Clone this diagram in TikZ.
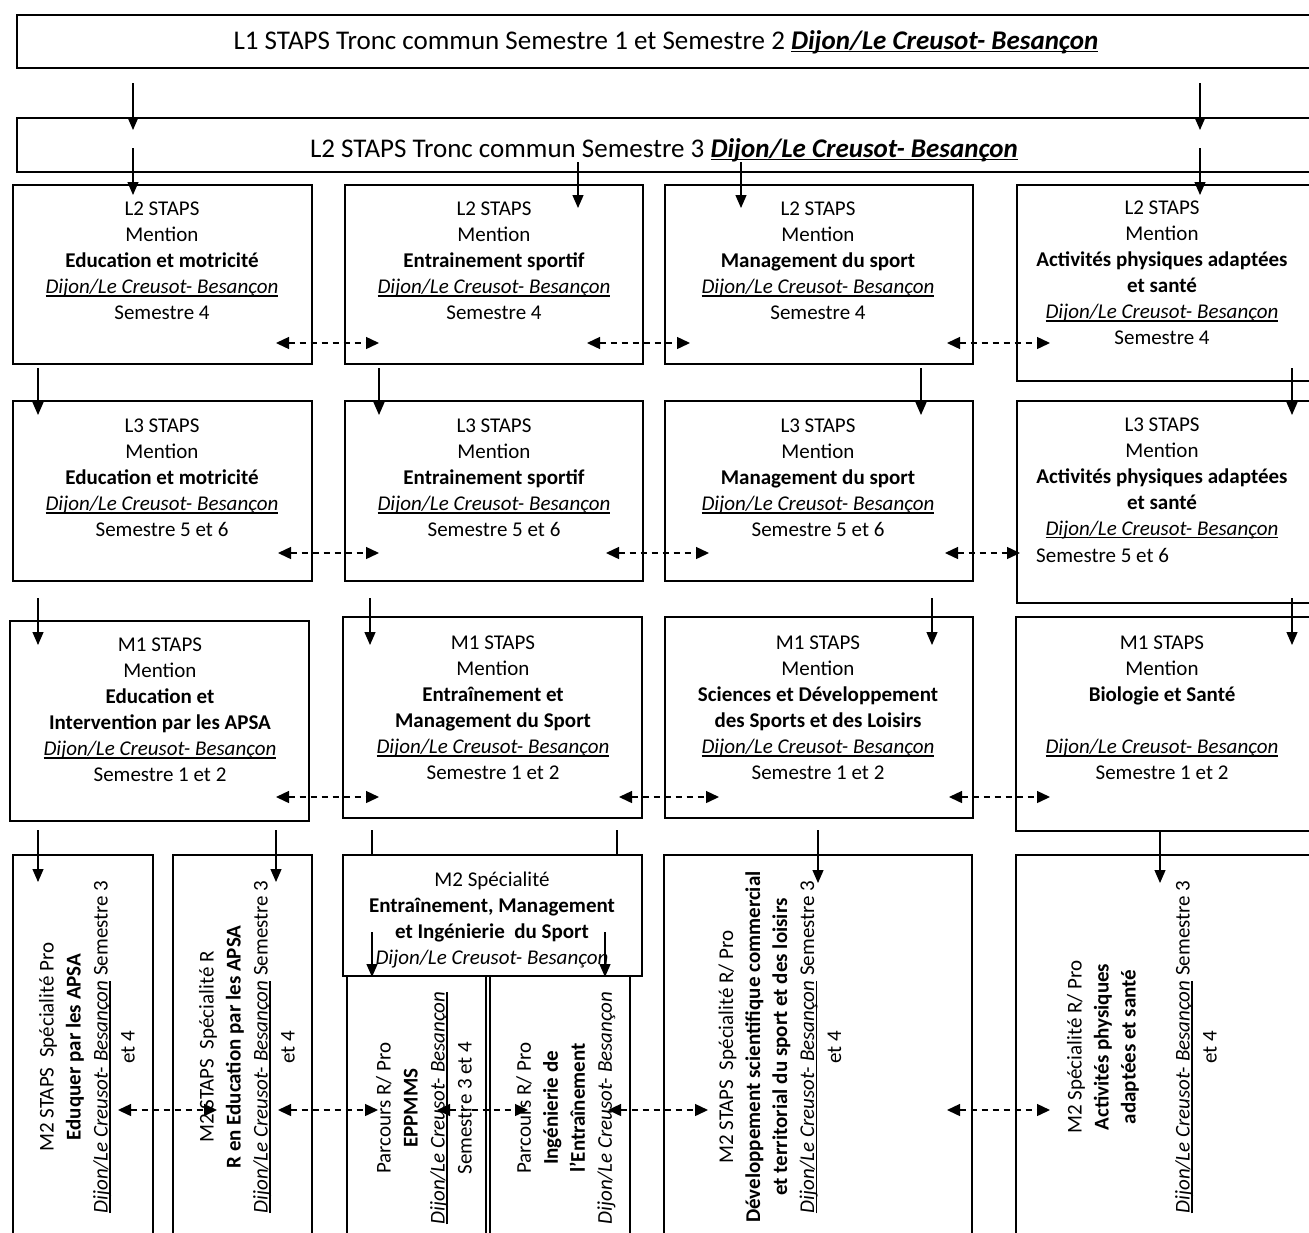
\documentclass[tikz,border=0pt]{standalone}
\usepackage{fontspec}
\setmainfont{Carlito}
\usetikzlibrary{arrows.meta}
\newsavebox\ulbox
\newcommand\myul[1]{\leavevmode\sbox\ulbox{#1}\rlap{\rule[-3.2pt]{\wd\ulbox}{1.5pt}}\usebox\ulbox}
\newcommand\loc{\myul{\textit{Dijon/Le Creusot- Besançon}}}
\newcommand\mybox[5]{\node[box,minimum width={(#4)-(#2)},minimum height={(#5)-(#3)}] (#1) at ({((#2)+(#4))/2},{((#3)+(#5))/2}) {};}
\newcommand\myvarr[4]{\coordinate (#1s) at (#2,#3); \coordinate (#1e) at (#2,#4); \draw[arr] (#1s) -- (#1e);}
\newcommand\myvline[4]{\coordinate (#1s) at (#2,#3); \coordinate (#1e) at (#2,#4); \draw[conn] (#1s) -- (#1e);}
\newcommand\myharr[4]{\coordinate (#1s) at (#3,#2); \coordinate (#1e) at (#4,#2); \draw[darr] (#1s) -- (#1e);}
\begin{document}
\begin{tikzpicture}[x=1pt,y=-1pt,
  box/.style={draw,line width=1.4pt,inner sep=0pt},
  txt/.style={align=center,inner sep=0pt,font=\fontsize{21}{26}\selectfont},
  rtxt/.style={align=center,inner sep=0pt,rotate=90,font=\fontsize{21}{27}\selectfont},
  big/.style={inner sep=0pt,font=\fontsize{27}{30}\selectfont},
  conn/.style={line width=1.2pt},
  arr/.style={line width=1.2pt,-{Triangle[length=13pt,width=11pt]}},
  darr/.style={line width=1.4pt,dash pattern=on 6pt off 5pt,{Triangle[length=13pt,width=12pt]}-{Triangle[length=13pt,width=12pt]}}]
\useasboundingbox (0,0) rectangle (1309,1232);
\fill[white] (0,0) rectangle (1309,1232);
\clip (0,0) rectangle (1309,1232);

% top boxes
\mybox{lone}{17}{15}{1315}{68}
\mybox{ltwo}{17}{118}{1315}{172}
\node[big] (tone) at (666,42) {L1 STAPS Tronc commun Semestre 1 et Semestre 2 \myul{\textbf{\textit{Dijon/Le Creusot- Besançon}}}};
\node[big] (ttwo) at (664,150) {L2 STAPS Tronc commun Semestre 3 \myul{\textbf{\textit{Dijon/Le Creusot- Besançon}}}};

% row 1
\mybox{aone}{13}{185}{312}{364}
\mybox{bone}{345}{185}{643}{364}
\mybox{cone}{665}{185}{973}{364}
\mybox{done}{1017}{185}{1315}{381}
\node[txt] (taone) at (162,261) {L2 STAPS\\Mention\\\textbf{Education et motricité}\\\loc\\Semestre 4};
\node[txt] (tbone) at (494,261) {L2 STAPS\\Mention\\\textbf{Entrainement sportif}\\\loc\\Semestre 4};
\node[txt] (tcone) at (818,261) {L2 STAPS\\Mention\\\textbf{Management du sport}\\\loc\\Semestre 4};
\node[txt] (tdone) at (1162,273) {L2 STAPS\\Mention\\\textbf{Activités physiques adaptées}\\\textbf{et santé}\\\loc\\Semestre 4};

% row 2
\mybox{atwo}{13}{401}{312}{581}
\mybox{btwo}{345}{401}{643}{581}
\mybox{ctwo}{665}{401}{973}{581}
\mybox{dtwo}{1017}{401}{1315}{603}
\node[txt] (tatwo) at (162,478) {L3 STAPS\\Mention\\\textbf{Education et motricité}\\\loc\\Semestre 5 et 6};
\node[txt] (tbtwo) at (494,478) {L3 STAPS\\Mention\\\textbf{Entrainement sportif}\\\loc\\Semestre 5 et 6};
\node[txt] (tctwo) at (818,478) {L3 STAPS\\Mention\\\textbf{Management du sport}\\\loc\\Semestre 5 et 6};
\node[txt] (tdtwo) at (1162,478) {L3 STAPS\\Mention\\\textbf{Activités physiques adaptées}\\\textbf{et santé}\\\loc};
\node[txt,anchor=west] (tdtwob) at (1036,555) {Semestre 5 et 6};

% row 3
\mybox{athree}{10}{621}{309}{821}
\mybox{bthree}{343}{617}{642}{818}
\mybox{cthree}{665}{617}{973}{818}
\mybox{dthree}{1016}{617}{1315}{831}
\node[txt] (tathree) at (160,710) {M1 STAPS\\Mention\\\textbf{Education et}\\\textbf{Intervention par les APSA}\\\loc\\Semestre 1 et 2};
\node[txt] (tbthree) at (493,708) {M1 STAPS\\Mention\\\textbf{Entraînement et}\\\textbf{Management du Sport}\\\loc\\Semestre 1 et 2};
\node[txt] (tcthree) at (818,708) {M1 STAPS\\Mention\\\textbf{Sciences et Développement}\\\textbf{des Sports et des Loisirs}\\\loc\\Semestre 1 et 2};
\node[txt] (tdthree) at (1162,708) {M1 STAPS\\Mention\\\textbf{Biologie et Santé}\\\strut\\\loc\\Semestre 1 et 2};

% row 4
\mybox{afour}{13}{855}{153}{1245}
\mybox{bfour}{173}{855}{312}{1245}
\mybox{mfour}{343}{855}{642}{976}
\mybox{pone}{347}{976}{486}{1245}
\mybox{ptwo}{490}{976}{630}{1245}
\mybox{cfour}{664}{855}{972}{1245}
\mybox{dfour}{1016}{855}{1315}{1245}
\node[txt] (tmfour) at (492,920) {M2 Spécialité\\\textbf{Entraînement, Management}\\\textbf{et Ingénierie~ du Sport}\\\textit{Dijon/Le Creusot- Besançon}};
\node[rtxt] (tafour) at (87,1047) {M2 STAPS~ Spécialité Pro\\\textbf{Eduquer par les APSA}\\\loc{} Semestre 3\\et 4};
\node[rtxt] (tbfour) at (247,1047) {M2 STAPS~ Spécialité R\\\textbf{R en Education par les APSA}\\\loc{} Semestre 3\\et 4};
\node[rtxt] (tpone) at (424,1108) {Parcours R/ Pro\\\textbf{EPPMMS}\\\loc\\Semestre 3 et 4};
\node[rtxt] (tptwo) at (566,1108) {Parcours R/ Pro\\\textbf{Ingénierie de}\\\textbf{l’Entraînement}\\\textit{Dijon/Le Creusot- Besançon}};
\node[rtxt] (tcfour) at (780,1047) {M2 STAPS~ Spécialité R/ Pro\\\textbf{Développement scientifique commercial}\\\textbf{et territorial du sport et des loisirs}\\\loc{} Semestre 3\\et 4};
\node[rtxt] (tdfour) at (1142,1047) {M2 Spécialité R/ Pro\\\textbf{Activités physiques}\\\textbf{adaptées et santé}\\\strut\\\loc{} Semestre 3\\et 4};

% vertical arrows
\myvarr{va}{133}{83}{130}
\myvarr{vb}{1200}{83}{130}
\myvarr{vc}{133}{148}{195}
\myvarr{vd}{1200}{148}{195}
\myvarr{ve}{578}{162}{208}
\myvarr{vf}{741}{162}{208}
\myvarr{vg}{38}{368}{415}
\myvarr{vh}{379}{368}{415}
\myvarr{vi}{921}{368}{415}
\myvarr{vj}{1292}{368}{415}
\myvarr{vk}{38}{598}{645}
\myvarr{vl}{370}{598}{645}
\myvarr{vm}{932}{598}{645}
\myvarr{vn}{1292}{598}{645}
\myvarr{vo}{38}{830}{882}
\myvarr{vp}{276}{830}{882}
\myvarr{vq}{818}{830}{883}
\myvarr{vr}{1160}{830}{883}
\myvarr{vs}{372}{932}{977}
\myvarr{vt}{605}{932}{977}
\myvline{la}{372}{830}{855}
\myvline{lb}{617}{830}{855}

% dashed double arrows
\myharr{ha}{343}{276}{379}
\myharr{hb}{343}{587}{690}
\myharr{hc}{343}{947}{1050}
\myharr{hd}{553}{278}{379}
\myharr{he}{553}{606}{709}
\myharr{hf}{553}{945}{1020}
\myharr{hg}{797}{276}{379}
\myharr{hh}{797}{619}{719}
\myharr{hi}{797}{949}{1050}
\myharr{hj}{1110}{118}{217}
\myharr{hk}{1110}{278}{378}
\myharr{hl}{1110}{437}{528}
\myharr{hm}{1110}{608}{708}
\myharr{hn}{1110}{947}{1050}
\end{tikzpicture}
\end{document}
